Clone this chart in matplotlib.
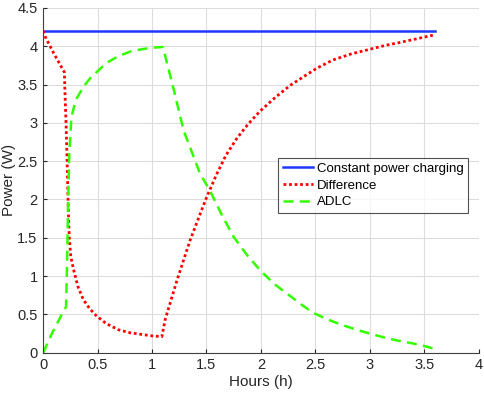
import matplotlib.pyplot as plt
import numpy as np

plt.rcParams['font.family'] = ['Liberation Sans', 'DejaVu Sans']

# constant power charging
cp_hours = [0, 3.6]
cp_power = [4.2, 4.2]

# difference curve
diff_hours = [0.0, 0.02, 0.1, 0.195, 0.20, 0.21, 0.22, 0.23, 0.24, 0.254, 0.28, 0.32, 0.37, 0.43,
              0.49, 0.58, 0.69, 0.8, 0.9, 1.0, 1.09, 1.12, 1.23, 1.35, 1.49, 1.59, 1.68, 1.78,
              1.88, 1.99, 2.13, 2.27, 2.4, 2.51, 2.66, 2.83, 3.0, 3.14, 3.28, 3.44, 3.6]
diff_power = [4.2, 4.12, 3.9, 3.66, 3.4, 3.0, 2.5, 1.9, 1.5, 1.25, 1.08, 0.86, 0.69, 0.57,
              0.48, 0.38, 0.30, 0.26, 0.24, 0.22, 0.21, 0.43, 0.95, 1.47, 1.99, 2.32, 2.58, 2.80,
              2.98, 3.15, 3.33, 3.49, 3.61, 3.71, 3.82, 3.90, 3.96, 4.01, 4.05, 4.10, 4.15]

# ADLC curve
adlc_hours = [0.0, 0.08, 0.16, 0.21, 0.22, 0.23, 0.24, 0.26, 0.30, 0.37, 0.43, 0.49, 0.58,
              0.69, 0.8, 0.9, 1.0, 1.10, 1.2, 1.29, 1.44, 1.53, 1.64, 1.75, 1.87, 1.99, 2.12,
              2.25, 2.37, 2.48, 2.62, 2.75, 2.88, 3.0, 3.13, 3.25, 3.4, 3.52, 3.6]
adlc_power = [0.0, 0.25, 0.47, 0.6, 1.2, 2.03, 2.6, 3.08, 3.3, 3.47, 3.58, 3.66, 3.78,
              3.87, 3.93, 3.96, 3.98, 3.99, 3.43, 2.90, 2.34, 2.12, 1.80, 1.51, 1.28, 1.08, 0.90,
              0.76, 0.63, 0.52, 0.43, 0.36, 0.30, 0.25, 0.20, 0.16, 0.12, 0.08, 0.05]

fig = plt.figure(figsize=(4.85, 3.95), dpi=100)
ax = fig.add_axes([0.089, 0.107, 0.898, 0.873])

ax.plot(cp_hours, cp_power, color=(0.12, 0.22, 1.0), lw=1.8, label='Constant power charging')
ax.plot(diff_hours, diff_power, color=(1.0, 0.0, 0.0), lw=2.0, linestyle=(0, (1, 1)), label='Difference')
ax.plot(adlc_hours, adlc_power, color=(0.2, 1.0, 0.0), lw=1.8, linestyle=(0, (4, 2.5)), label='ADLC')

ax.set_xlim(0, 4)
ax.set_ylim(0, 4.5)
ax.set_xticks(np.arange(0, 4.01, 0.5))
ax.set_yticks(np.arange(0, 4.51, 0.5))
ax.set_xticklabels(['0', '0.5', '1', '1.5', '2', '2.5', '3', '3.5', '4'])
ax.set_yticklabels(['0', '0.5', '1', '1.5', '2', '2.5', '3', '3.5', '4', '4.5'])
ax.grid(True, color='#dcdcdc', lw=0.8)
ax.set_axisbelow(True)
for s in ['top', 'right']:
    ax.spines[s].set_visible(False)
for s in ['left', 'bottom']:
    ax.spines[s].set_color('#404040')
ax.tick_params(direction='in', length=3, colors='#262626', labelsize=10.5, pad=4)

ax.set_xlabel('Hours (h)', fontsize=11, color='#262626', labelpad=2)
ax.set_ylabel('Power (W)', fontsize=11, color='#262626', labelpad=1)

leg = ax.legend(loc='upper left', bbox_to_anchor=(0.539, 0.565), fontsize=9.5, frameon=True,
                fancybox=False, edgecolor='#262626', borderpad=0.35, labelspacing=0.35,
                handlelength=2.3, handletextpad=0.3, borderaxespad=0)
leg.get_frame().set_linewidth(0.8)

fig.savefig('out.png', dpi=100)
